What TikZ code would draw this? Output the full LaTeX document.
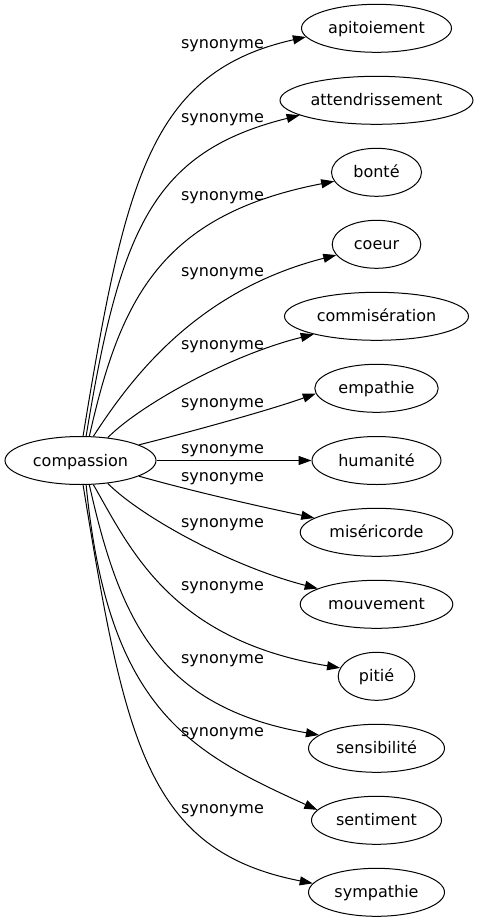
\documentclass[tikz,border=0pt]{standalone}
\usepackage{fontspec}
\setmainfont{DejaVu Sans}
\usetikzlibrary{arrows.meta,shapes.geometric}
\begin{document}
\begin{tikzpicture}[x=1pt,y=-1pt,
  word/.style={draw, ellipse, line width=1pt, minimum height=48pt, inner sep=0pt,
    font=\fontsize{16}{19}\selectfont, text height=12pt, text depth=1pt},
  lab/.style={inner sep=0pt, font=\fontsize{16}{19}\selectfont},
  edge/.style={line width=1pt, -{Triangle[length=13pt,width=9pt]}}]
\useasboundingbox (0,0) rectangle (477,923);
% nodes
\node[word, minimum width=151pt] (comp) at (80.5,460.5) {compassion};
\node[word, minimum width=150pt] (apit) at (376.5,28.3) {apitoiement};
\node[word, minimum width=193pt] (attend) at (376.5,100.3) {attendrissement};
\node[word, minimum width=90pt] (bonte) at (376.5,172.3) {bonté};
\node[word, minimum width=88.6pt] (coeur) at (376.5,244.3) {coeur};
\node[word, minimum width=184pt] (commis) at (376.5,316.3) {commisération};
\node[word, minimum width=123.4pt] (empat) at (376.5,388.3) {empathie};
\node[word, minimum width=129pt] (human) at (376.5,460.5) {humanité};
\node[word, minimum width=152.6pt] (miser) at (376.5,532.3) {miséricorde};
\node[word, minimum width=152.6pt] (mouve) at (376.5,604.3) {mouvement};
\node[word, minimum width=76.6pt] (pitie) at (376.5,676.3) {pitié};
\node[word, minimum width=136pt] (sensi) at (376.5,748.3) {sensibilité};
\node[word, minimum width=130pt] (senti) at (376.5,820.3) {sentiment};
\node[word, minimum width=136pt] (sympa) at (376.5,892.3) {sympathie};
% edges
\draw[edge] (comp.84) .. controls (125,180) and (150,72) .. (apit.187);
\draw[edge] (comp.77) .. controls (120,230) and (152,152) .. (attend.191);
\draw[edge] (comp.70.5) .. controls (120,300) and (160,215) .. (bonte.192.5);
\draw[edge] (comp.62) .. controls (130,380) and (195,291) .. (coeur.195);
\draw[edge] (comp.40.7) .. controls (140,405) and (230,355) .. (commis.196);
\draw[edge] (comp.15) .. controls (190,432) and (270,410) .. (empat.185.5);
\draw[edge] (comp.east) -- (human.west);
\draw[edge] (comp.-15) .. controls (195,492) and (262,507) .. (miser.167);
\draw[edge] (comp.-40.7) .. controls (140,516) and (230,566) .. (mouve.165.6);
\draw[edge] (comp.-62) .. controls (130,548) and (170,640) .. (pitie.167);
\draw[edge] (comp.-70.5) .. controls (120,622) and (160,707) .. (sensi.167);
\draw[edge] (comp.-77) .. controls (108,710) and (190,752) .. (senti.170);
\draw[edge] (comp.-84) .. controls (125,742) and (147,851) .. (sympa.172.6);
% labels
\node[lab] (l1) at (222.5,46) {synonyme};
\node[lab] (l2) at (222.5,119.5) {synonyme};
\node[lab] (l3) at (222.5,198) {synonyme};
\node[lab] (l4) at (222.5,273.5) {synonyme};
\node[lab] (l5) at (222.5,347) {synonyme};
\node[lab] (l6) at (222.5,404.5) {synonyme};
\node[lab] (l7) at (222.5,450.3) {synonyme};
\node[lab] (l8) at (222.5,478.3) {synonyme};
\node[lab] (l9) at (222.5,525) {synonyme};
\node[lab] (l10) at (222.5,588) {synonyme};
\node[lab] (l11) at (222.5,661) {synonyme};
\node[lab] (l12) at (222.5,734) {synonyme};
\node[lab] (l13) at (222.5,811) {synonyme};
\end{tikzpicture}
\end{document}
